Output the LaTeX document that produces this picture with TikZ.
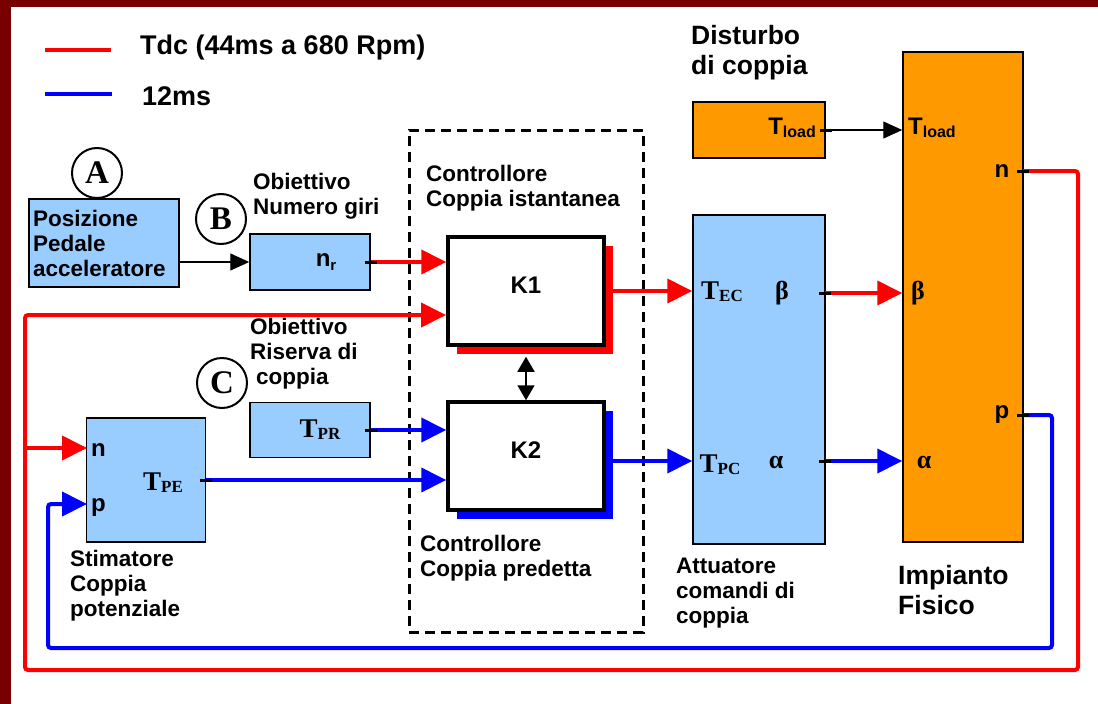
\documentclass[tikz,border=0pt]{standalone}
\usepackage{fontspec}
\setmainfont{Liberation Sans}
\newfontfamily\serifT{Liberation Serif}
\usepackage{tikz}
\usetikzlibrary{arrows.meta, shadows}
\definecolor{azzurro}{HTML}{99CCFF}
\definecolor{arancio}{HTML}{FF9900}
\definecolor{bordo}{HTML}{780000}
\newcommand{\Tser}[1]{{\serifT\bfseries\fontsize{27}{27}\selectfont T\raisebox{-2pt}{\fontsize{17}{17}\selectfont #1}}}
\newcommand{\Tload}{T\raisebox{-3pt}{\fontsize{16}{16}\selectfont load}}

\begin{document}
\begin{tikzpicture}[x=1pt, y=-1pt, font=\bfseries\fontsize{22.5}{25}\selectfont,
        blk/.style={draw, fill=azzurro, line width=1.5pt, inner sep=0pt},
        org/.style={draw, fill=arancio, line width=1.5pt, inner sep=0pt},
        kbox/.style={draw, fill=white, line width=3.5pt, minimum width=156pt,
            minimum height=108pt, text depth=12pt, font=\bfseries\fontsize{24}{24}\selectfont},
        txt/.style={anchor=west, align=left, inner sep=0pt},
        big/.style={txt, font=\bfseries\fontsize{26.5}{30}\selectfont},
        port/.style={inner sep=0pt, font=\bfseries\fontsize{24}{24}\selectfont},
        greek/.style={inner sep=0pt, font=\serifT\bfseries\fontsize{26}{26}\selectfont},
        lettera/.style={draw, circle, line width=2pt, minimum size=50pt, inner sep=0pt,
            font=\serifT\bfseries\fontsize{33}{33}\selectfont},
        sig/.style={line width=4pt, red},
        sigb/.style={line width=4pt, blue},
        punta/.style={-{Triangle[length=25pt, width=24pt]}},
        nero/.style={line width=1.3pt, -{Triangle[length=19pt, width=17pt]}},
        stub/.style={line width=3pt, black}]
    \useasboundingbox (0,0) rectangle (1098,704);
    \fill[bordo] (0,0) rectangle (1098,7);
    \fill[bordo] (0,0) rectangle (11,704);
    % legenda
    \draw[sig] (45,50) -- (111,50);
    \draw[sigb] (45,94) -- (112,94);
    \node[txt, font=\bfseries\fontsize{27}{30}\selectfont] (leg1) at (140,48) {Tdc (44ms a 680 Rpm)};
    \node[txt, font=\bfseries\fontsize{27}{30}\selectfont] (leg2) at (142,96) {12ms};
    % ingressi
    \node[blk, minimum width=150pt, minimum height=88pt, text width=142pt, align=left] (pedale) at (104,243) {Posizione\\Pedale\\acceleratore};
    \node[lettera] (cA) at (97,173) {A};
    \node[lettera] (cB) at (221,219) {B};
    \node[lettera] (cC) at (222,383) {C};
    \node[txt] (tNr) at (253,196) {Obiettivo\\Numero giri};
    \node[blk, minimum width=120pt, minimum height=56pt] (nr) at (310,262) {};
    \node[port] (lnr) at (326,262) {n\raisebox{-4pt}{\fontsize{15}{15}\selectfont r}};
    \node[txt] (tRis) at (250,354) {Obiettivo\\Riserva di\\\hspace{6pt}coppia};
    \node[blk, minimum width=120pt, minimum height=55pt] (tpr) at (310,430) {};
    \node (ltpr) at (320,430) {\Tser{PR}};
    \node[blk, minimum width=119pt, minimum height=124pt] (stim) at (146,480) {};
    \node[port, anchor=base west] (ln1) at (91,456) {n};
    \node[port, anchor=base west] (lp1) at (91,511) {p};
    \node (ltpe) at (163,483) {\Tser{PE}};
    \node[txt] (tStim) at (70,586) {Stimatore\\Coppia\\potenziale};
    % controllore
    \node[draw, line width=3pt, dash pattern=on 10pt off 6pt, minimum width=234pt, minimum height=502pt] (ctrl) at (526,381) {};
    \node[txt] (tIst) at (426,188) {Controllore\\Coppia istantanea};
    \node[kbox, drop shadow={fill=red, opacity=1, shadow xshift=9pt, shadow yshift=-9pt}] (k1) at (526,291) {K1};
    \node[kbox, drop shadow={fill=blue, opacity=1, shadow xshift=9pt, shadow yshift=-9pt}] (k2) at (526,456) {K2};
    \node[txt] (tPred) at (420,558) {Controllore\\Coppia predetta};
    % attuatore e impianto
    \node[blk, minimum width=132pt, minimum height=329pt] (att) at (759,379.5) {};
    \node (lTec) at (722,292) {\Tser{EC}};
    \node[greek] (lbeta1) at (782,293) {β};
    \node (lTpc) at (720,465) {\Tser{PC}};
    \node[greek] (lalfa1) at (776,462) {α};
    \node[txt] (tAtt) at (676,593) {Attuatore\\comandi di\\coppia};
    \node[org, minimum width=132pt, minimum height=56pt] (tload) at (759,130) {};
    \node[port, anchor=east] (lTl1) at (816,128) {\Tload};
    \node[big] (tDist) at (691,53) {Disturbo\\di coppia};
    \node[org, minimum width=120pt, minimum height=490pt] (imp) at (963,297) {};
    \node[port, anchor=west] (lTl2) at (908,128) {\Tload};
    \node[port] (lnimp) at (1002,171) {n};
    \node[greek] (lbeta2) at (918,293) {β};
    \node[port] (lpimp) at (1002,415) {p};
    \node[greek] (lalfa2) at (924,462) {α};
    \node[big] (tImp) at (898,590) {Impianto\\Fisico};
    % porte
    \coordinate (nout) at (1023,171);
    \coordinate (pout) at (1023,415);
    \coordinate (attb) at (825,293);
    \coordinate (atta) at (825,461);
    \coordinate (k1b) at (446,315);
    \coordinate (stimn) at (87,448);
    \coordinate (stimp) at (87,504);
    \coordinate (split) at (25,448);
    % collegamenti
    \draw[nero] (pedale.east |- nr.west) -- (nr.west);
    \draw[nero] (tload.east) -- (tload.east -| imp.west);
    \draw[line width=1.5pt, {Triangle[length=15pt,width=17pt]}-{Triangle[length=15pt,width=17pt]}] ([yshift=-10pt]k1.south) -- (k2.north);
    \draw[sig, punta] (nr.east) -- (nr.east -| k1.west);
    \draw[sigb, punta] (tpr.east) -- (tpr.east -| k2.west);
    \draw[sigb, punta] (stim.east) -- (stim.east -| k2.west);
    \draw[sig, punta] (k1.east) -- (k1.east -| att.west);
    \draw[sigb, punta] (k2.east |- atta) -- (att.west |- atta);
    \draw[sig, punta] (attb) -- (attb -| imp.west);
    \draw[sigb, punta] (atta) -- (atta -| imp.west);
    \draw[sig, punta, rounded corners=3pt] (nout) -- ++(55,0) |- (25,670) |- (k1b);
    \draw[sig, punta] (split) -- (stimn);
    \draw[sigb, punta, rounded corners=3pt] (pout) -- ++(29,0) |- (48,648) |- (stimp);
    \foreach \p in {nr.east, tpr.east, stim.east, tload.east, attb, atta, nout, pout}
        \draw[stub] ([xshift=-6pt]\p) -- ([xshift=6pt]\p);
\end{tikzpicture}
\end{document}
